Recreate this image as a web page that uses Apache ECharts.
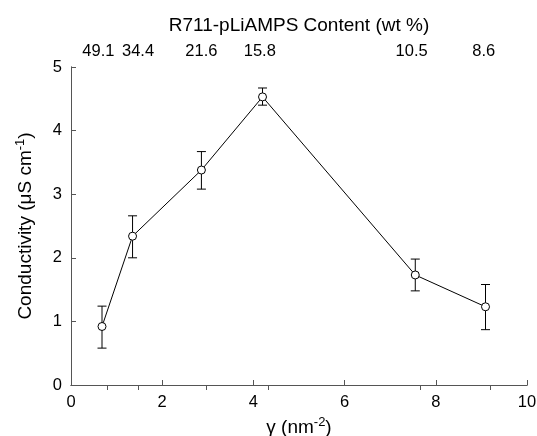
<!DOCTYPE html>
<html>
<head>
<meta charset="utf-8">
<script src="https://cdn.jsdelivr.net/npm/echarts@6/dist/echarts.min.js"></script>
<style>
  html, body { margin: 0; padding: 0; background: #fff; }
  #chart { width: 537px; height: 436px; }
</style>
</head>
<body>
<div id="chart"></div>
<script>
// gamma (nm^-2) and conductivity (uS cm^-1) with error bar limits
const gamma = [0.68, 1.35, 2.86, 4.2, 7.55, 9.09];
const conductivity = [0.92, 2.34, 3.38, 4.53, 1.73, 1.23];
const errLow = [0.58, 2.0, 3.08, 4.4, 1.48, 0.87];
const errHigh = [1.24, 2.66, 3.67, 4.67, 1.98, 1.58];

// top axis: wt % content. ticks and their labels don't line up exactly in the
// original, so they get their own gamma positions
const topTickPos = [0.79, 1.47, 2.96, 4.32, 7.66, 9.2];
const topLabelPos = [0.6, 1.47, 2.86, 4.14, 7.47, 9.05];
const topLabels = ["49.1", "34.4", "21.6", "15.8", "10.5", "8.6"];

const font = "Liberation Sans, Arial, sans-serif";
const axisColor = "#555";
const tickSize = 16.5;
const titleSize = 19;

const chart = echarts.init(document.getElementById("chart"));

chart.setOption({
  animation: false,
  backgroundColor: "#fff",
  grid: { left: 71, right: 10, top: 67, bottom: 51, containLabel: false, outerBoundsMode: "none" },
  xAxis: [
    {
      type: "value", min: 0, max: 10, interval: 2,
      name: "{g|γ} (nm{sup|-2})", nameLocation: "middle", nameGap: 31,
      nameTextStyle: {
        fontFamily: font, fontSize: titleSize, color: "#000",
        rich: {
          g: { fontFamily: font, fontSize: titleSize, color: "#000" },
          sup: { fontFamily: font, fontSize: 13, verticalAlign: "top", padding: [0, 0, 10, 0], color: "#000" }
        }
      },
      axisLine: { show: true, lineStyle: { color: axisColor, width: 1 } },
      axisTick: { show: true, inside: true, length: 5, lineStyle: { color: axisColor } },
      axisLabel: { fontFamily: font, fontSize: tickSize, color: "#000", margin: 9, hideOverlap: false },
      splitLine: { show: false }
    },
    {
      type: "value", min: 0, max: 10, position: "top",
      name: "R711-pLiAMPS Content (wt %)", nameLocation: "middle", nameGap: 32,
      nameTextStyle: { fontFamily: font, fontSize: titleSize, color: "#000" },
      axisLine: { show: true, lineStyle: { color: axisColor, width: 1 } },
      axisTick: { show: true, inside: true, length: 5, customValues: topTickPos, lineStyle: { color: axisColor } },
      axisLabel: {
        fontFamily: font, fontSize: tickSize, color: "#000", margin: 7,
        hideOverlap: false, showMinLabel: true, showMaxLabel: true,
        customValues: topLabelPos,
        formatter: function (v) {
          const i = topLabelPos.indexOf(v);
          return i >= 0 ? topLabels[i] : "";
        }
      },
      splitLine: { show: false }
    }
  ],
  yAxis: [
    {
      type: "value", min: 0, max: 5, interval: 1,
      name: "Conductivity (μS cm{sup|-1})", nameLocation: "middle", nameGap: 34,
      nameTextStyle: {
        fontFamily: font, fontSize: titleSize, color: "#000",
        rich: {
          sup: { fontFamily: font, fontSize: 13, verticalAlign: "top", padding: [0, 0, 10, 0], color: "#000" }
        }
      },
      axisLine: { show: true, lineStyle: { color: axisColor, width: 1 } },
      axisTick: { show: true, inside: true, length: 5, lineStyle: { color: axisColor } },
      axisLabel: { fontFamily: font, fontSize: tickSize, color: "#000", margin: 9, hideOverlap: false },
      splitLine: { show: false }
    },
    {
      type: "value", min: 0, max: 5, position: "right",
      axisLine: { show: true, lineStyle: { color: axisColor, width: 1 } },
      axisTick: { show: false },
      axisLabel: { show: false },
      splitLine: { show: false }
    }
  ],
  series: [
    {
      type: "custom",
      xAxisIndex: 0, yAxisIndex: 0,
      data: gamma.map((g, i) => [g, errLow[i], errHigh[i]]),
      renderItem: function (params, api) {
        const x = api.value(0);
        const lo = api.coord([x, api.value(1)]);
        const hi = api.coord([x, api.value(2)]);
        const w = 4.5;
        const style = { stroke: "#000", lineWidth: 1 };
        return {
          type: "group",
          children: [
            { type: "line", shape: { x1: lo[0], y1: lo[1], x2: hi[0], y2: hi[1] }, style: style },
            { type: "line", shape: { x1: lo[0] - w, y1: lo[1], x2: lo[0] + w, y2: lo[1] }, style: style },
            { type: "line", shape: { x1: hi[0] - w, y1: hi[1], x2: hi[0] + w, y2: hi[1] }, style: style }
          ]
        };
      },
      z: 2
    },
    {
      type: "line",
      xAxisIndex: 0, yAxisIndex: 0,
      data: gamma.map((g, i) => [g, conductivity[i]]),
      symbol: "circle", symbolSize: 8, showAllSymbol: true,
      lineStyle: { color: "#000", width: 1 },
      itemStyle: { color: "#fff", borderColor: "#000", borderWidth: 1 },
      z: 3
    }
  ]
});
</script>
</body>
</html>
